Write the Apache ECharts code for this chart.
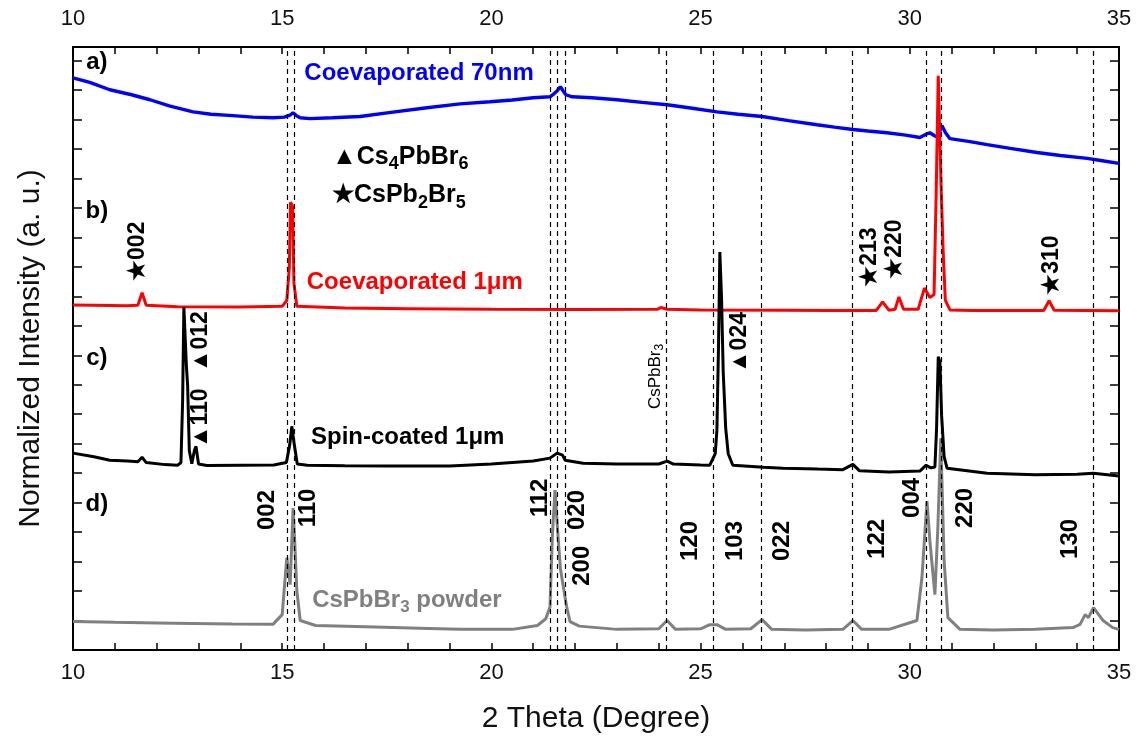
<!DOCTYPE html>
<html><head><meta charset="utf-8">
<script src="https://cdn.jsdelivr.net/npm/echarts@6/dist/echarts.min.js"></script>
<style>html,body{margin:0;padding:0;background:#fff}#c{width:1137px;height:739px}</style>
</head><body><div id="c"></div>
<script>
// ---- data (2 Theta in degrees, stacked normalized intensity in arbitrary units) ----
const xRange = [10, 35];
const yRange = [-0.46, 20];
const xLabelStep = 5;

const seriesNames = ['Coevaporated 70nm', 'Coevaporated 1μm', 'Spin-coated 1μm', 'CsPbBr3 powder'];

const seriesA_70nm = [[10.0,18.95],[10.4,18.8],[10.88,18.55],[11.4,18.38],[11.84,18.21],[12.3,18.0],[12.87,17.8],[13.3,17.72],[13.82,17.67],[14.3,17.62],[14.78,17.6],[15.05,17.62],[15.2,17.7],[15.26,17.77],[15.35,17.66],[15.43,17.6],[15.66,17.57],[16.2,17.6],[16.86,17.64],[17.6,17.78],[18.46,17.94],[19.25,18.07],[19.97,18.14],[20.5,18.2],[21.0,18.28],[21.4,18.31],[21.5,18.42],[21.57,18.51],[21.65,18.65],[21.72,18.5],[21.78,18.38],[21.93,18.31],[22.4,18.28],[23.0,18.21],[23.6,18.12],[24.2,18.04],[24.8,17.92],[25.39,17.8],[25.9,17.72],[26.47,17.64],[27.1,17.5],[27.78,17.36],[28.2,17.28],[28.64,17.2],[29.0,17.15],[29.45,17.09],[29.9,17.01],[30.24,16.93],[30.4,17.05],[30.48,17.09],[30.6,16.98],[30.65,16.96],[30.72,17.15],[30.77,17.33],[30.85,17.1],[30.96,16.89],[31.4,16.8],[31.85,16.69],[32.4,16.56],[33.04,16.42],[33.6,16.32],[34.24,16.22],[34.6,16.14],[35.0,16.05]];

const seriesB_1um = [[10.0,11.25],[11.3,11.22],[11.55,11.24],[11.65,11.66],[11.75,11.24],[12.5,11.19],[14.0,11.18],[15.0,11.2],[15.11,11.4],[15.17,12.5],[15.2,14.73],[15.25,14.6],[15.28,12.0],[15.35,11.2],[16.5,11.14],[18.0,11.12],[20.0,11.1],[22.0,11.09],[23.96,11.1],[24.05,11.16],[24.2,11.1],[25.0,11.08],[27.0,11.07],[28.0,11.06],[29.2,11.06],[29.35,11.35],[29.5,11.07],[29.65,11.1],[29.74,11.52],[29.85,11.1],[30.2,11.1],[30.35,11.82],[30.48,11.5],[30.58,11.6],[30.63,15.0],[30.68,19.02],[30.72,19.0],[30.75,15.17],[30.8,12.97],[30.85,11.4],[30.96,11.08],[31.5,11.06],[33.2,11.06],[33.33,11.39],[33.45,11.07],[35.0,11.05]];

const seriesC_spin = [[10.0,6.22],[10.5,6.1],[10.88,5.98],[11.3,5.95],[11.55,5.93],[11.65,6.08],[11.75,5.9],[12.2,5.83],[12.5,5.81],[12.58,5.9],[12.62,8.0],[12.65,11.18],[12.69,11.15],[12.71,9.19],[12.74,8.5],[12.78,6.3],[12.84,5.86],[12.9,6.3],[12.94,6.45],[13.0,5.85],[13.2,5.8],[14.0,5.81],[14.8,5.82],[15.1,5.9],[15.18,6.5],[15.23,7.13],[15.28,6.6],[15.36,5.85],[15.6,5.81],[16.5,5.79],[17.5,5.78],[18.5,5.78],[19.0,5.78],[20.0,5.85],[21.0,5.95],[21.4,6.05],[21.57,6.22],[21.7,6.15],[21.76,5.98],[22.19,5.88],[23.0,5.85],[24.0,5.85],[24.2,5.95],[24.35,5.85],[25.0,5.82],[25.22,5.81],[25.35,6.2],[25.39,7.0],[25.43,10.0],[25.46,13.04],[25.5,11.5],[25.54,8.99],[25.6,7.06],[25.66,6.2],[25.77,5.81],[26.5,5.74],[26.97,5.71],[27.8,5.68],[28.4,5.66],[28.64,5.84],[28.8,5.62],[29.5,5.58],[30.24,5.61],[30.39,5.81],[30.5,5.72],[30.6,5.75],[30.64,7.06],[30.68,9.49],[30.72,9.3],[30.76,7.5],[30.82,6.1],[30.89,5.71],[31.85,5.54],[33.0,5.49],[34.0,5.5],[34.39,5.54],[35.0,5.44]];

const seriesD_powder = [[10.0,0.51],[11.0,0.48],[12.0,0.46],[12.87,0.44],[13.8,0.42],[14.78,0.41],[15.0,0.74],[15.06,1.8],[15.11,2.67],[15.19,1.76],[15.26,4.36],[15.3,3.2],[15.35,1.55],[15.43,0.54],[15.8,0.37],[17.0,0.33],[18.5,0.27],[19.25,0.24],[20.5,0.24],[21.1,0.37],[21.3,0.6],[21.4,1.0],[21.46,3.5],[21.52,4.97],[21.59,3.45],[21.65,2.3],[21.71,1.76],[21.8,1.0],[21.88,0.5],[22.1,0.35],[23.0,0.24],[24.0,0.26],[24.2,0.54],[24.4,0.24],[25.0,0.26],[25.22,0.4],[25.39,0.4],[25.6,0.24],[26.2,0.26],[26.47,0.57],[26.7,0.24],[27.5,0.22],[28.4,0.24],[28.64,0.54],[28.85,0.24],[29.5,0.24],[30.17,0.54],[30.29,1.99],[30.41,4.59],[30.48,3.24],[30.6,1.42],[30.67,3.68],[30.74,6.72],[30.82,2.57],[30.91,0.64],[31.2,0.24],[32.0,0.22],[33.0,0.24],[33.9,0.3],[34.07,0.41],[34.19,0.74],[34.27,0.64],[34.39,0.98],[34.62,0.54],[34.85,0.3],[35.0,0.24]];

// reference peak positions (dashed lines)
const refLines = [15.11, 15.29, 21.40, 21.58, 21.76, 24.19, 25.30, 26.46, 28.63, 30.39, 30.75, 34.39];

// annotations: [text, 2theta, intensity]
const panelLabels = [['a)',10.57,19.49],['b)',10.57,14.43],['c)',10.57,9.43],['d)',10.57,4.49]];
const sampleLabelAnchors = [[18.27,19.09],[18.17,12.03],[18.0,6.76],[17.98,1.22]];
const legendLabels = [['▲Cs{s|4}PbBr{s|6}',16.19,16.28],['★CsPb{s|2}Br{s|5}',16.19,14.97]];
const phaseLabels = [['★002',11.55,13.07],['▲012',13.04,10.0],['▲110',13.04,7.40],['▲024',25.94,9.97],['★213',29.05,12.87],['★220',29.65,13.14],['★310',33.40,12.6]];
const hklLabels = [['002',14.64,4.29],['110',15.62,4.36],['112',21.16,4.70],['020',22.05,4.29],['200',22.17,2.40],['120',24.75,3.24],['103',25.82,3.24],['022',26.95,3.24],['122',29.22,3.31],['004',30.05,4.70],['220',31.32,4.36],['130',33.83,3.31]];
const smallLabels = [['CsPbBr{s|3}',23.91,8.82]];

// ---- styles ----
const FONT = '"Liberation Sans", Arial, sans-serif';
const colors = ['#0000ff', '#ff0000', '#000000', '#808080'];
const widths = [3.4, 3, 3, 3];
const curves = [seriesA_70nm, seriesB_1um, seriesC_spin, seriesD_powder];
const drawOrder = [0, 3, 1, 2];

const labelData = [];
panelLabels.forEach(([t,x,y]) => labelData.push({value:[x,y], label:{formatter:t, fontSize:24, fontWeight:'bold', color:'#000', fontFamily:FONT}}));
seriesNames.forEach((nm,i) => {
  const [x,y] = sampleLabelAnchors[i];
  const f = nm.indexOf('Br3') >= 0 ? '{n|CsPbBr}{s|3}{n| powder}' : '{n|' + nm + '}';
  labelData.push({value:[x,y], label:{formatter:f, rich:{
    n:{fontSize:24, fontWeight:'bold', color:colors[i], fontFamily:FONT},
    s:{fontSize:17, fontWeight:'bold', color:colors[i], fontFamily:FONT, padding:[14,0,0,0]}}}});
});
legendLabels.forEach(([t,x,y]) => labelData.push({value:[x,y], label:{position:'right', distance:0,
  formatter:'{n|' + t.replace(/\{s\|(\d)\}/g, '}{s|$1}{n|') + '}', rich:{
    n:{fontSize:25, fontWeight:'bold', color:'#000', fontFamily:FONT},
    s:{fontSize:18, fontWeight:'bold', color:'#000', fontFamily:FONT, padding:[15,0,0,0]}}}}));
phaseLabels.forEach(([t,x,y]) => labelData.push({value:[x,y], label:{formatter:t, rotate:90, fontSize:23, fontWeight:'bold', color:'#000', fontFamily:FONT}}));
hklLabels.forEach(([t,x,y]) => labelData.push({value:[x,y], label:{formatter:t, rotate:90, fontSize:24, fontWeight:'bold', color:'#000', fontFamily:FONT}}));
smallLabels.forEach(([t,x,y]) => labelData.push({value:[x,y], label:{rotate:90,
  formatter:'{n|' + t.replace(/\{s\|(\d)\}/g, '}{s|$1}{n|') + '}', rich:{
    n:{fontSize:17, color:'#000', fontFamily:FONT},
    s:{fontSize:12, color:'#000', fontFamily:FONT, padding:[9,0,0,0]}}}}));

const axisLineStyle = {lineStyle:{color:'#000', width:2}};
function xAxisCfg(pos, margin, showName) {
  return {
    type:'value', position:pos, min:xRange[0], max:xRange[1], interval:1,
    axisLine:{show:true, onZero:false, ...axisLineStyle},
    axisTick:{show:true, inside:true, length:7, lineStyle:{color:'#000', width:1.5}},
    axisLabel:{show:true, margin:margin, fontSize:22, color:'#111', fontFamily:FONT,
      formatter:v => (v % xLabelStep === 0 ? String(v) : '')},
    splitLine:{show:false},
    name: showName ? '2 Theta (Degree)' : '', nameLocation:'middle', nameGap:54,
    nameTextStyle:{fontSize:30, color:'#111', fontFamily:FONT}
  };
}
function yAxisCfg(pos, showName) {
  return {
    type:'value', position:pos, min:yRange[0], max:yRange[1], interval:1,
    axisLine:{show:true, onZero:false, ...axisLineStyle},
    axisTick:{show:true, inside:true, length:9, lineStyle:{color:'#000', width:1.5}},
    axisLabel:{show:false}, splitLine:{show:false},
    name: showName ? 'Normalized Intensity (a. u.)' : '', nameLocation:'middle', nameGap:27,
    nameTextStyle:{fontSize:30, color:'#111', fontFamily:FONT}
  };
}

const series = [{
  type:'line', data:[], silent:true, z:1,
  markLine:{silent:true, symbol:['none','none'], animation:false, label:{show:false},
    lineStyle:{type:[5,4], color:'#000', width:1.2},
    data: refLines.map(v => ({xAxis:v}))}
}];
drawOrder.forEach(i => series.push({
  type:'line', name:seriesNames[i], data:curves[i], showSymbol:false, smooth:false, silent:true, z:2,
  lineStyle:{color:colors[i], width:widths[i]}, itemStyle:{color:colors[i]}
}));
series.push({type:'scatter', data:labelData, symbolSize:0, silent:true, z:5,
  itemStyle:{opacity:1},
  label:{show:true, position:'inside', color:'#000', opacity:1, fontFamily:FONT}});

const chart = echarts.init(document.getElementById('c'), null, {renderer:'canvas'});
chart.setOption({
  animation:false, backgroundColor:'#fff',
  grid:{left:73, right:18, top:47, bottom:86, containLabel:false},
  xAxis:[xAxisCfg('bottom', 12, true), xAxisCfg('top', 17, false)],
  yAxis:[yAxisCfg('left', true), yAxisCfg('right', false)],
  series: series
});
</script></body></html>
